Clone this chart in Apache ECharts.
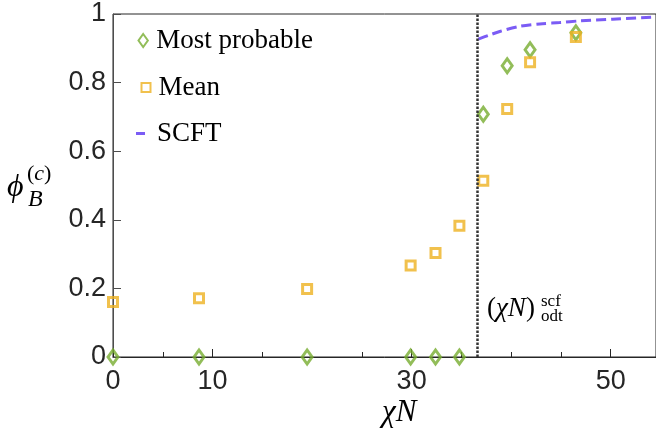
<!DOCTYPE html>
<html>
<head>
<meta charset="utf-8">
<script src="https://cdn.jsdelivr.net/npm/echarts@6/dist/echarts.min.js"></script>
<style>html,body{margin:0;padding:0;background:#fff;}#c{width:656px;height:435px;}</style>
</head>
<body>
<div id="c"></div>
<script>
// ---- data ----
const chiN = [0, 8.64, 19.5, 29.9, 32.4, 34.8, 37.2, 39.6, 41.9, 46.5];
const phiMostProbable = [0, 0, 0, 0, 0, 0, 0.708, 0.849, 0.896, 0.945];
const phiMean = [0.160, 0.171, 0.198, 0.267, 0.303, 0.383, 0.514, 0.723, 0.859, 0.933];
const scftChiN = [36.7, 37.85, 38.85, 40.86, 42.87, 44.88, 46.9, 50.2, 54.5];
const scftPhi = [0.927, 0.939, 0.949, 0.964, 0.971, 0.975, 0.980, 0.985, 0.991];
const odtChiN = 36.6;
const xMax = 54.55;
const xMajorTicks = [0, 10, 30, 50];
const xMinorTicks = [5, 15, 25, 35, 40, 45];
const seriesNames = ['Most probable', 'Mean', 'SCFT'];

const green = '#77AC30', orange = '#EDB120', purple = '#7B5CF5';
const diamond = 'path://M0,-1 L0.72,0 L0,1 L-0.72,0 Z';

const chart = echarts.init(document.getElementById('c'), null, {renderer: 'canvas'});
const tickFont = {fontFamily: 'Liberation Sans, Arial, sans-serif', fontSize: 27, color: '#262626'};
const serif = 'Liberation Serif, Times New Roman, serif';
const legendText = {fontFamily: serif, fontSize: 27, color: '#000'};

const option = {
  animation: false,
  grid: {left: 113, top: 14, right: 0, height: 343, show: true, borderColor: '#262626', borderWidth: 1, backgroundColor: 'transparent'},
  xAxis: [{
    type: 'value', min: 0, max: xMax,
    axisLine: {show: true, lineStyle: {color: '#262626', width: 1}},
    axisTick: {show: true, inside: true, length: 8, customValues: xMajorTicks, lineStyle: {color: '#262626'}},
    axisLabel: {customValues: xMajorTicks, margin: 11, ...tickFont},
    splitLine: {show: false}
  }, {
    type: 'value', min: 0, max: xMax, position: 'bottom',
    axisLine: {show: false},
    axisTick: {show: true, inside: true, length: 5, customValues: xMinorTicks, lineStyle: {color: '#262626'}},
    axisLabel: {show: false},
    splitLine: {show: false}
  }],
  yAxis: {
    type: 'value', min: 0, max: 1, interval: 0.2,
    axisLine: {show: true, lineStyle: {color: '#4d4d4d', width: 1}},
    axisTick: {show: true, inside: true, length: 8, lineStyle: {color: '#4d4d4d'}},
    axisLabel: {margin: 7, ...tickFont},
    splitLine: {show: false}
  },
  legend: [{
    data: [{name: seriesNames[0], icon: diamond}], orient: 'vertical', left: 137.5, top: 27, padding: 0,
    itemWidth: 10, itemHeight: 13,
    textStyle: {...legendText, padding: [0, 0, 0, 3]}
  }, {
    data: [{name: seriesNames[1], icon: 'rect'}], orient: 'vertical', left: 140.5, top: 74, padding: 0,
    itemWidth: 9, itemHeight: 9,
    textStyle: {...legendText, padding: [0, 0, 0, 3]}
  }, {
    data: [{name: seriesNames[2], icon: 'rect'}], orient: 'vertical', left: 136, top: 120, padding: 0,
    itemWidth: 9, itemHeight: 3,
    textStyle: {...legendText, padding: [0, 0, 0, 7]}
  }],
  series: [{
    name: seriesNames[0], type: 'scatter',
    data: chiN.map((x, i) => [x, phiMostProbable[i]]),
    symbol: diamond, symbolSize: [10, 14],
    itemStyle: {color: 'rgba(0,0,0,0)', borderColor: green, borderWidth: 3},
    clip: false, z: 3,
    markLine: {
      silent: true, symbol: 'none', label: {show: false},
      lineStyle: {color: '#333', width: 2.5, type: [2.5, 1.5]},
      data: [{xAxis: odtChiN}]
    }
  }, {
    name: seriesNames[1], type: 'scatter',
    data: chiN.map((x, i) => [x, phiMean[i]]),
    symbol: 'rect', symbolSize: 9,
    itemStyle: {color: 'rgba(0,0,0,0)', borderColor: orange, borderWidth: 3},
    clip: false, z: 4
  }, {
    name: seriesNames[2], type: 'line',
    data: scftChiN.map((x, i) => [x, scftPhi[i]]),
    showSymbol: false, symbol: 'none', smooth: 0.3,
    itemStyle: {color: purple},
    lineStyle: {color: purple, width: 3, type: [10, 5]},
    z: 2
  }],
  graphic: [
    {type: 'text', left: 7, top: 172, style: {text: 'ϕ', font: 'italic 32px ' + serif, fill: '#000'}},
    {type: 'text', left: 27, top: 163, style: {
      text: '{p|(}{i|c}{p|)}',
      rich: {p: {fontFamily: serif, fontSize: 22, fill: '#000'}, i: {fontFamily: serif, fontStyle: 'italic', fontSize: 22, fill: '#000'}}
    }},
    {type: 'text', left: 28, top: 188, style: {text: 'B', font: 'italic 24px ' + serif, fill: '#000'}},
    {type: 'text', left: 382, top: 397, style: {text: 'χN', font: 'italic 31px ' + serif, fill: '#000'}},
    {type: 'text', left: 487, top: 295, style: {
      text: '{p|(}{i|χN}{p|)}',
      rich: {p: {fontFamily: serif, fontSize: 27, fill: '#000'}, i: {fontFamily: serif, fontStyle: 'italic', fontSize: 27, fill: '#000'}}
    }},
    {type: 'text', left: 541, top: 293, style: {text: 'scf', font: '17px ' + serif, fill: '#000'}},
    {type: 'text', left: 541, top: 308, style: {text: 'odt', font: '17px ' + serif, fill: '#000'}}
  ]
};
chart.setOption(option);
</script>
</body>
</html>
